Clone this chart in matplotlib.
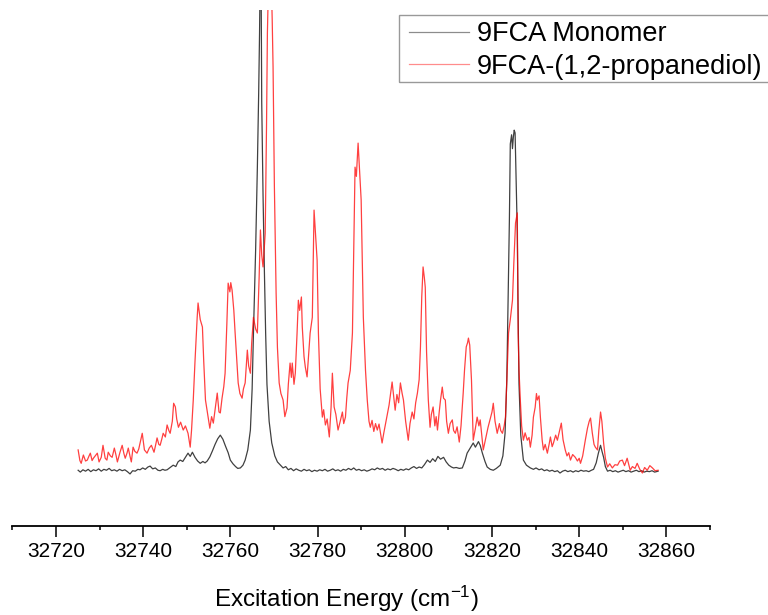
import matplotlib
matplotlib.use("Agg")
import matplotlib.pyplot as plt
from matplotlib.ticker import MultipleLocator
from matplotlib.patches import Rectangle

plt.rcParams['font.family'] = ['Liberation Sans', 'DejaVu Sans']
plt.rcParams['mathtext.default'] = 'regular'

# 9FCA monomer spectrum (energy in cm-1, intensity arb. units)
mono_E = [32725.1, 32725.6, 32726.2, 32726.8, 32727.4, 32728.0, 32728.6, 32729.2, 32729.8, 32730.4,
          32731.0, 32731.6, 32732.2, 32732.8, 32733.4, 32734.0, 32734.6, 32735.2, 32735.8, 32736.4,
          32737.0, 32737.6, 32738.2, 32738.8, 32739.3, 32739.9, 32740.5, 32741.1, 32741.6, 32742.2,
          32742.8, 32743.4, 32743.9, 32744.5, 32745.0, 32745.5, 32746.2, 32746.9, 32747.5, 32748.0,
          32748.5, 32749.1, 32749.7, 32750.3, 32750.8, 32751.3, 32751.9, 32752.5, 32753.1, 32753.7,
          32754.2, 32754.7, 32755.3, 32755.9, 32756.5, 32757.1, 32757.7, 32758.3, 32758.9, 32759.5,
          32760.0, 32760.6, 32761.2, 32761.7, 32762.3, 32762.9, 32763.4, 32764.0, 32764.6, 32765.0,
          32765.3, 32765.8, 32766.2, 32766.5, 32766.7, 32766.9, 32767.05, 32767.2, 32767.5, 32767.8,
          32768.1, 32768.4, 32768.9, 32769.5, 32770.2, 32770.8, 32771.5, 32772.1, 32772.7, 32773.3,
          32773.9, 32774.5, 32775.1, 32775.7, 32776.3, 32776.9, 32777.5, 32778.1, 32778.7, 32779.3,
          32779.9, 32780.5, 32781.1, 32781.7, 32782.3, 32782.9, 32783.5, 32784.1, 32784.7, 32785.3,
          32785.9, 32786.5, 32787.1, 32787.7, 32788.3, 32788.9, 32789.5, 32790.1, 32790.7, 32791.3,
          32791.9, 32792.5, 32793.1, 32793.7, 32794.3, 32794.9, 32795.5, 32796.1, 32796.7, 32797.3,
          32797.9, 32798.5, 32799.1, 32799.7, 32800.3, 32800.9, 32801.5, 32802.1, 32802.7, 32803.3,
          32803.9, 32804.5, 32805.2, 32805.8, 32806.4, 32807.0, 32807.6, 32808.2, 32808.9, 32809.5,
          32810.1, 32810.7, 32811.2, 32811.8, 32812.5, 32813.2, 32813.8, 32814.3, 32815.0, 32815.7,
          32816.2, 32816.9, 32817.3, 32817.8, 32818.4, 32818.9, 32819.6, 32820.3, 32821.0, 32821.9,
          32822.5, 32823.0, 32823.4, 32823.7, 32824.0, 32824.2, 32824.5, 32824.7, 32824.9, 32825.1,
          32825.3, 32825.5, 32825.8, 32826.0, 32826.2, 32826.6, 32827.2, 32827.9, 32828.8, 32829.5,
          32830.1, 32830.8, 32831.4, 32832.0, 32832.6, 32833.2, 32833.8, 32834.4, 32835.0, 32835.6,
          32836.2, 32836.8, 32837.4, 32838.0, 32838.6, 32839.2, 32839.8, 32840.4, 32841.0, 32841.6,
          32842.2, 32842.8, 32843.3, 32843.9, 32844.4, 32844.9, 32845.2, 32845.6, 32846.0, 32846.5,
          32847.1, 32847.7, 32848.3, 32848.9, 32849.5, 32850.1, 32850.7, 32851.3, 32851.9, 32852.5,
          32853.1, 32853.7, 32854.3, 32854.9, 32855.5, 32856.1, 32856.7, 32857.3, 32858.1]
mono_I = [0.4, 0.0, 0.5, 0.2, 0.6, 0.1, 0.5, 0.3, 0.7, 0.2,
          0.6, 0.4, 0.8, 0.3, 0.5, 0.2, 0.6, 0.3, 0.5, 0.1,
          -0.4, 0.3, 0.2, 0.6, 0.5, 0.9, 0.6, 1.1, 1.3, 0.7,
          0.9, 0.4, 0.3, 0.6, 0.4, 0.5, 1.0, 1.5, 1.2, 2.2,
          2.6, 2.3, 3.2, 4.1, 3.4, 4.3, 3.2, 2.4, 1.9, 2.3,
          2.0, 2.4, 3.3, 4.6, 6.0, 7.2, 8.0, 7.1, 5.6, 4.2,
          2.6, 1.8, 1.2, 0.8, 0.9, 1.5, 2.6, 4.8, 9.1, 18.0,
          30.0, 48.0, 66.0, 82.0, 95.0, 112.0, 108.0, 80.0, 60.0, 44.0,
          30.0, 19.0, 11.0, 6.3, 3.5, 2.2, 1.5, 0.9, 1.2, 0.5,
          0.8, 0.3, 0.7, 0.4, 0.2, 0.6, 0.3, 0.5, 0.1, 0.4,
          0.2, 0.5, 0.3, 0.6, 0.2, 0.4, 0.7, 0.3, 0.5, 0.2,
          0.6, 0.4, 0.8, 0.5, 0.9, 0.4, 0.6, 0.3, 0.5, 0.2,
          0.4, 0.7, 0.5, 0.9, 0.6, 0.8, 0.4, 0.7, 0.5, 0.8,
          0.6, 0.3, 0.6, 0.4, 0.7, 0.5, 0.9, 1.2, 0.8, 1.1,
          0.9, 1.6, 2.6, 2.1, 2.9, 2.3, 3.4, 2.8, 3.2, 2.2,
          1.5, 1.1, 0.9, 1.0, 0.8, 0.9, 2.4, 4.1, 5.2, 6.3,
          5.4, 6.6, 5.8, 4.1, 2.3, 1.1, 0.6, 0.4, 0.8, 1.5,
          3.5, 8.4, 20.0, 37.0, 55.0, 71.0, 73.0, 70.0, 72.5, 74.0,
          73.4, 65.0, 52.0, 34.0, 19.0, 8.0, 2.6, 1.5, 0.9, 0.6,
          0.9, 0.5, 0.7, 0.3, 0.5, 0.2, 0.4, 0.1, 0.3, -0.2,
          0.2, 0.4, 0.1, 0.3, 0.0, 0.3, 0.1, 0.4, 0.2, 0.3,
          0.1, 0.4, 0.6, 2.0, 4.1, 5.8, 4.6, 3.2, 1.2, 0.2,
          0.4, 0.1, 0.3, 0.0, 0.2, 0.4, 0.1, 0.3, 0.0, 0.2,
          0.4, 0.1, 0.3, 0.0, 0.2, 0.1, 0.3, 0.0, 0.2]

# 9FCA-(1,2-propanediol) complex spectrum
cplx_E = [32725.1, 32725.5, 32725.8, 32726.3, 32726.8, 32727.2, 32727.6, 32727.9, 32728.3, 32728.6,
          32729.1, 32729.5, 32729.9, 32730.4, 32730.8, 32731.3, 32731.7, 32732.0, 32732.5, 32732.9,
          32733.4, 32733.8, 32734.1, 32734.7, 32735.2, 32735.6, 32735.9, 32736.3, 32736.6, 32737.0,
          32737.3, 32737.7, 32738.1, 32738.6, 32739.0, 32739.3, 32739.8, 32740.3, 32740.9, 32741.4,
          32741.9, 32742.5, 32742.9, 32743.2, 32743.6, 32743.9, 32744.3, 32744.6, 32745.1, 32745.5,
          32745.9, 32746.2, 32746.7, 32747.0, 32747.4, 32747.7, 32748.1, 32748.6, 32749.2, 32749.7,
          32750.3, 32750.8, 32751.1, 32751.5, 32751.9, 32752.4, 32752.6, 32753.1, 32753.6, 32753.9,
          32754.3, 32754.9, 32755.3, 32755.7, 32756.1, 32756.5, 32757.0, 32757.4, 32757.7, 32758.1,
          32758.5, 32758.8, 32759.2, 32759.5, 32759.9, 32760.1, 32760.4, 32760.8, 32761.1, 32761.5,
          32761.8, 32762.2, 32762.7, 32763.0, 32763.4, 32763.9, 32764.2, 32764.6, 32764.9, 32765.3,
          32765.8, 32766.2, 32766.6, 32766.9, 32767.2, 32767.5, 32768.0, 32768.3, 32768.5, 32768.8,
          32769.0, 32769.2, 32769.4, 32769.6, 32769.8, 32770.1, 32770.5, 32770.8, 32771.2, 32771.6,
          32772.1, 32772.5, 32773.0, 32773.3, 32773.7, 32774.0, 32774.2, 32774.6, 32774.9, 32775.3,
          32775.6, 32775.9, 32776.3, 32776.5, 32776.9, 32777.2, 32777.6, 32778.0, 32778.3, 32778.8,
          32779.0, 32779.2, 32779.5, 32779.9, 32780.2, 32780.6, 32781.1, 32781.4, 32781.8, 32782.2,
          32782.7, 32783.1, 32783.4, 32783.8, 32784.2, 32784.7, 32785.2, 32785.7, 32786.0, 32786.4,
          32786.7, 32787.0, 32787.5, 32788.0, 32788.3, 32788.6, 32788.9, 32789.3, 32789.6, 32790.0,
          32790.5, 32791.0, 32791.4, 32791.8, 32792.1, 32792.5, 32792.9, 32793.3, 32793.7, 32794.1,
          32794.5, 32794.8, 32795.2, 32795.5, 32795.9, 32796.4, 32797.1, 32797.5, 32797.8, 32798.2,
          32798.6, 32799.0, 32799.4, 32799.7, 32800.2, 32800.8, 32801.2, 32801.7, 32802.1, 32802.5,
          32802.9, 32803.3, 32803.6, 32803.9, 32804.2, 32804.5, 32804.7, 32805.0, 32805.4, 32805.8,
          32806.1, 32806.5, 32806.9, 32807.2, 32807.5, 32807.9, 32808.2, 32808.6, 32808.9, 32809.3,
          32809.6, 32810.0, 32810.4, 32810.9, 32811.2, 32811.6, 32812.0, 32812.5, 32812.9, 32813.4,
          32813.7, 32814.1, 32814.4, 32814.6, 32814.9, 32815.3, 32815.7, 32816.2, 32816.6, 32817.0,
          32817.3, 32817.7, 32818.0, 32818.5, 32819.1, 32819.6, 32820.0, 32820.3, 32820.7, 32821.2,
          32821.7, 32822.0, 32822.4, 32822.8, 32823.1, 32823.5, 32823.8, 32824.2, 32824.7, 32825.0,
          32825.4, 32825.6, 32825.8, 32826.0, 32826.2, 32826.5, 32826.8, 32827.2, 32827.6, 32828.1,
          32828.5, 32828.8, 32829.2, 32829.5, 32829.9, 32830.2, 32830.4, 32830.8, 32831.1, 32831.5,
          32831.8, 32832.2, 32832.7, 32833.1, 32833.4, 32833.8, 32834.1, 32834.6, 32835.0, 32835.4,
          32835.9, 32836.3, 32836.8, 32837.2, 32837.6, 32838.0, 32838.5, 32839.1, 32839.6, 32840.0,
          32840.3, 32840.8, 32841.4, 32841.9, 32842.3, 32842.6, 32843.0, 32843.4, 32843.7, 32844.2,
          32844.5, 32844.9, 32845.2, 32845.6, 32846.0, 32846.5, 32847.0, 32847.6, 32848.2, 32848.8,
          32849.3, 32849.9, 32850.4, 32851.0, 32851.4, 32851.7, 32852.2, 32852.8, 32853.3, 32853.9,
          32854.5, 32855.0, 32855.6, 32856.2, 32856.8, 32857.4, 32858.1]
cplx_I = [4.8, 2.5, 1.9, 3.7, 2.4, 2.6, 3.5, 4.1, 2.5, 3.0,
          3.6, 4.1, 2.2, 3.2, 5.8, 3.0, 2.6, 4.3, 3.5, 3.2,
          5.2, 3.6, 2.2, 4.3, 5.8, 4.0, 3.0, 4.1, 5.2, 3.4,
          2.2, 5.4, 4.5, 4.1, 5.0, 6.3, 8.4, 4.8, 4.1, 5.2,
          5.8, 4.3, 6.0, 7.4, 6.0, 5.8, 7.2, 8.4, 7.6, 10.2,
          9.0, 8.4, 11.0, 14.9, 14.1, 11.5, 9.7, 10.8, 9.1, 10.0,
          8.4, 5.4, 9.0, 15.6, 24.0, 33.5, 36.6, 33.0, 31.4, 24.0,
          15.6, 11.9, 9.5, 12.0, 10.6, 13.5, 17.1, 13.0, 12.8, 16.0,
          18.5, 21.4, 32.0, 40.9, 39.0, 41.0, 39.4, 35.0, 30.1, 24.0,
          19.3, 17.0, 16.0, 18.0, 19.3, 26.4, 23.0, 21.4, 28.0, 33.5,
          31.0, 30.1, 42.0, 52.4, 47.0, 44.4, 51.7, 75.0, 95.0, 108.0,
          103.0, 101.0, 106.0, 98.0, 87.7, 62.0, 38.7, 27.0, 19.3, 17.0,
          15.6, 12.0, 13.9, 19.0, 23.6, 20.5, 23.6, 19.0, 21.4, 30.0,
          37.2, 35.0, 37.9, 31.4, 25.0, 22.7, 20.6, 26.0, 30.1, 33.5,
          45.0, 56.7, 52.0, 45.9, 30.1, 18.0, 11.9, 13.5, 10.2, 11.5,
          7.6, 14.0, 21.4, 14.1, 12.5, 9.1, 11.0, 13.0, 10.5, 11.9,
          16.0, 19.3, 22.0, 30.1, 48.0, 66.0, 64.0, 71.2, 66.0, 58.9,
          33.5, 22.0, 15.6, 11.0, 9.7, 11.2, 8.8, 10.5, 9.1, 10.4,
          8.0, 6.3, 8.5, 10.0, 11.9, 14.5, 19.5, 16.0, 13.4, 16.8,
          15.0, 19.3, 17.0, 15.6, 11.0, 6.9, 10.5, 13.0, 11.5, 15.0,
          17.1, 20.0, 27.1, 38.0, 44.4, 42.0, 40.0, 26.0, 15.6, 9.7,
          12.5, 14.1, 10.0, 12.0, 9.1, 13.0, 15.6, 18.4, 16.0, 15.6,
          11.0, 8.4, 10.5, 11.3, 9.0, 8.4, 9.8, 6.5, 10.0, 17.1,
          22.0, 27.1, 28.0, 29.0, 27.5, 19.9, 6.9, 9.5, 11.9, 10.0,
          11.3, 7.5, 4.8, 7.0, 9.7, 11.5, 13.0, 14.9, 11.0, 8.4,
          10.5, 9.0, 8.4, 10.0, 11.9, 22.0, 30.1, 33.0, 37.2, 45.0,
          53.9, 55.0, 56.1, 30.1, 22.0, 15.6, 10.0, 6.9, 8.5, 6.9,
          7.5, 5.4, 8.0, 11.9, 14.0, 17.0, 15.6, 16.5, 11.9, 7.0,
          4.8, 6.0, 4.1, 6.0, 7.6, 5.5, 6.3, 8.0, 6.9, 8.5,
          10.6, 7.0, 4.8, 3.5, 4.2, 2.6, 3.8, 3.2, 2.4, 3.0,
          1.9, 3.5, 6.9, 9.5, 11.0, 11.7, 8.5, 6.0, 5.4, 4.8,
          9.0, 13.0, 11.0, 6.3, 3.0, 1.1, 1.8, 0.9, 1.6, 1.5,
          2.4, 2.6, 1.4, 3.0, 1.5, 0.4, 1.2, 0.8, 1.9, 0.6,
          -0.2, 1.0, 0.4, 1.4, 0.9, 0.3, 0.4]

series_labels = ['9FCA Monomer', '9FCA-(1,2-propanediol)']

fig = plt.figure(figsize=(7.68, 6.15), dpi=100)
ax = fig.add_axes([0.016, 0.1452, 0.9085, 0.8385])

ax.plot(mono_E, mono_I, color='black', lw=0.9, alpha=0.75, label=series_labels[0])
ax.plot(cplx_E, cplx_I, color='red', lw=0.9, alpha=0.75, label=series_labels[1])

ax.set_xlim(32710, 32870)
ax.set_ylim(-11.6, 100)

for side in ['left', 'right', 'top']:
    ax.spines[side].set_visible(False)
ax.spines['bottom'].set_linewidth(1.3)
ax.set_yticks([])

ax.xaxis.set_major_locator(MultipleLocator(20))
ax.xaxis.set_minor_locator(MultipleLocator(10))
ax.tick_params(axis='x', which='major', direction='out', length=8, width=1.1, labelsize=15, pad=4)
ax.tick_params(axis='x', which='minor', direction='out', length=3.2, width=1.1)
ax.ticklabel_format(axis='x', useOffset=False, style='plain')

ax.set_xlabel('Excitation Energy (cm$^{-1}$)', fontsize=17.5)
ax.xaxis.set_label_coords(0.478, -0.113)

# legend without its own frame; the box is drawn separately so it can run off the right edge
leg = ax.legend(loc='upper left', bbox_to_anchor=(409 / 768, 1 - 21 / 615),
                bbox_transform=fig.transFigure, fontsize=19.5, frameon=False,
                borderpad=0, labelspacing=0.25, handlelength=2.22,
                handletextpad=0.3, borderaxespad=0)
for ln in leg.get_lines():
    ln.set_alpha(0.45)
fig.patches.append(Rectangle((399 / 768, 1 - 82 / 615), 380 / 768, 67 / 615,
                             transform=fig.transFigure, fill=False,
                             edgecolor='#999999', lw=1.0))

fig.savefig('out.png', dpi=100)
